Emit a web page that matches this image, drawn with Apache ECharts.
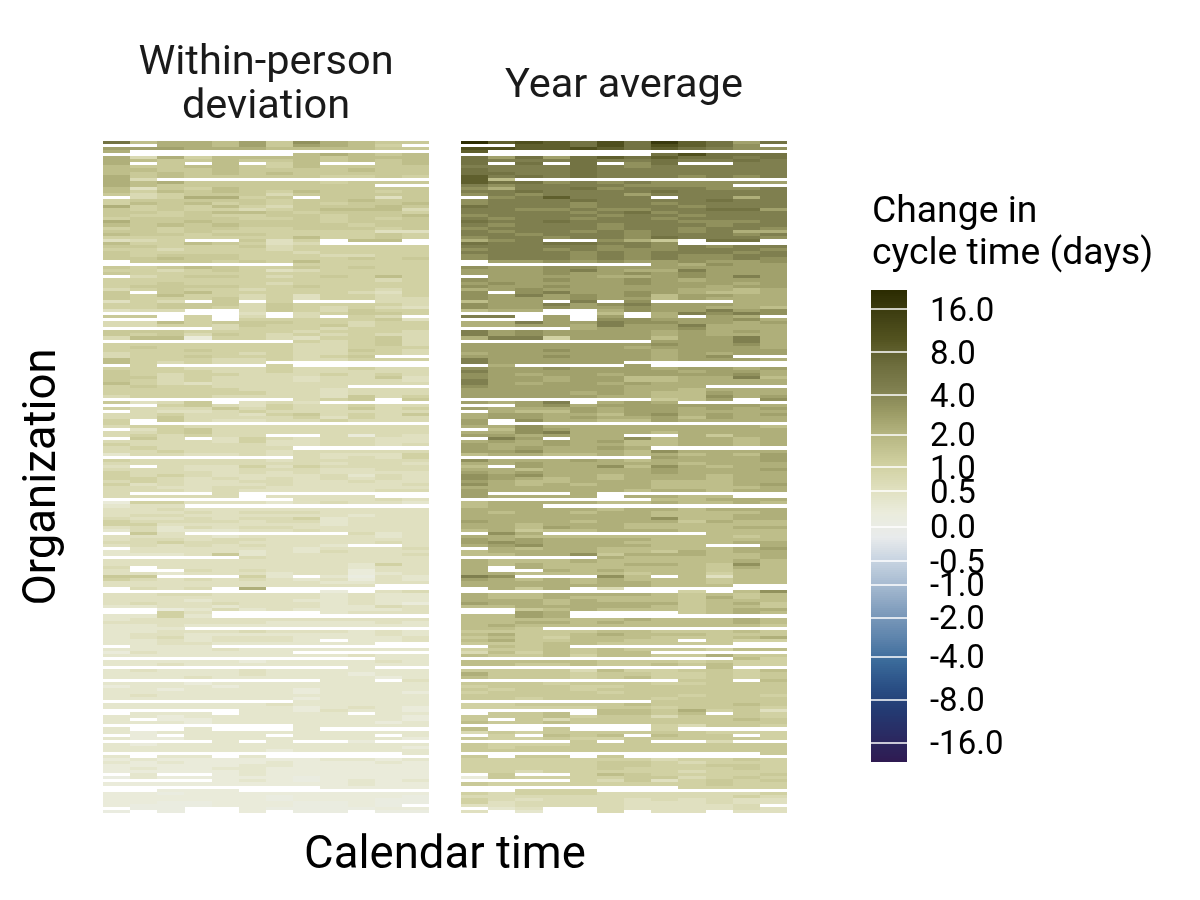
<!DOCTYPE html>
<html>
<head>
<meta charset="utf-8">
<style>
  html, body { margin: 0; background: #fff; }
  #chart { width: 1200px; height: 900px; }
</style>
<script src="https://cdn.jsdelivr.net/npm/echarts@6/dist/echarts.min.js"></script>
</head>
<body>
<div id="chart"></div>
<script>
var months = ['1','2','3','4','5','6','7','8','9','10','11','12'];

// change in days per code; '.' is a missing cell
var levels = {'0':0.1,'1':0.2,'2':0.35,'3':0.5,'4':0.7,'5':1,'6':1.3,'7':1.7,'8':2.2,'9':2.8,
              'a':3.5,'b':4.5,'c':6,'d':8,'e':11,'f':16,'g':21};

var withinRows = [
'c788796a8766','..887969875.','999888777766','8...........','.......78767','848577776777','876676676767','8.6.7.57..67',
'766776576666','776676666766','767676766666','867666665565','84..........','878666665666','8766666666..','736576666666',
'757676576656','645666466666','.458856.6636','566666566766','576756565667','856575466676','656554567774','665677656665',
'655655665667','566665565656','866766665666','767676666566','565665566656','665655555533','766566555565','555555575565',
'345..635.77.','75576534....','665556455555','554555455555','655555545555','656665554455','667665555656','.66656575555',
'.......55555','656765565655','554565345555','655555555555','.45665456575','555555555545','556555455555','566665565555',
'456554555545','6.6755555435','657554535545','655564535544','354.6.5...44','556664655554','556654654543','344..4654655',
'.....3.45665','66.5.4.4.54.','...5.5555563','447566655455','445546556455','....45554555','666555545554','656465454544',
'477155435564','.......54564','555555544564','565555544555','555655544654','455554544554','4556555456..','755544544555',
'754544......','.5....5.....','555444544544','655544544444','654554445454','664544434463','654544434443','754344444444',
'565544444...','555554443444','555555443444','455544443645','.......456.6','6346.343....','..5643544544','544464544645',
'.43345444444','445443564546','446444453544','5.6433445444','5...........','455444444444','.35644444444','445644444444',
'454544..4143','.64.35434433','444435334433','544444334434','4544444.....','445444344444','244334343335','.......43435',
'544444344444','444444443443','3.4335354444','444334443344','544434343333','545433334243','554343434343','454334433433',
'534333433334','443344333333','444343333344','4...4.......','44444.3333..','.......33343','155333234332','233.........',
'334333333333','333434443333','344333333233','433434452333','544443442333','553333332333','342434433333','242223343333',
'.63......423','333323333323','344344333333','445443333343','343434332..3','.33333323334','233332324333','222362333334',
'.....4333333','333333333333','333333333253','4.3333333233','3..434333133','332333233123','66...52.2032','543434323132',
'333333332233','3333333333..','.434.8......','........1.34','334433332322','333333332322','333233322322','343343332321',
'223323332243','..1242322223','..53....2333','2252........','233333333333','333333222232','223222222222','222.........',
'223334333232','233222222232','234233322223','22323332.223','2233222222..','.222........','222232222222','1322222.....',
'222222222322','..........22','222221222232','223222222222','.........2..','232223222222','222223222122','222322222212',
'........22.3','222122222222','122212222222','221222212222','222222212221','232222222222','222222212222','.......22222',
'222222322222','222222212321','.....2213221','.222.2222.22','221222222221','2.1122222221','222122222212','.......22222',
'2..2...2....','212222222222','.1.222.222.2','211222222221','....2.2..1..','212222222222','222222222221','222222122222',
'...........2','2.22.2......','121111112212','212111211121','111112211111','121122111111','111112111111','.2..12111111',
'021111101111','....12101212','111111111211','........1111','..111.......','110111111111','111111011110','111111011100',
'110011100100','10001110010.','.00..1000011','0.0..1.00.00'
];

var yearRows = [
'gdedcecfdc9c','..ddcecedca.','eeddedcdcbaa','d...........','.......ceccc','c9c9cdcdccbc','cbbbcbbcbbcb','c.c.c.ac..bb',
'bbbbcbabbbbb','cbbbcbbbbbbb','ccbbcbbbbbbb','dbcbcbbbabab','d7..........','dccababaaaa9','babbbbaaaa..','a8bbcabbbaab',
'bbcbbbbcbbbb','ababbb9bbbbb','.abdbbb.bb8b','abbbcbbbbcbb','abbbabbabbbb','cbbbabbbabbb','bbaabaabbcc9','bbbbabcabbbb',
'abbbbabbabbb','babbabbabbbb','cbbcbbbbaaab','babbbabbbabb','abbbbabbabba','babbababab88','bbabbbabbbab','abbabbacbbba',
'8ab..a86.cc.','cbbccbba....','bbbbbabababb','abbabaaabbba','bbbbababbbab','abbbababaabb','abbbababaaba','.99a9a99a99a',
'.......98a99','a99aa9999999','999ab988b999','999a99a9a999','.9999889a9b9','a99a99a98999','9a9999a99989','a99a99999899',
'89a999998878','a.ab99a98778','a9b9a9a79988','a999a9979888','799.b.a...88','a99b9ab99988','a99a99a99887','788..8a99b9a',
'.....7.8baba','bb.9.9.8.98.','...9.aa999a8','88b99baa9989','88998b99b888','....8999a888','b9a999989898','b9a999989888',
'8bb5999799b8','.......999b8','9999999a99a8','999999899998','999a99989999','899999989899','999a99989a..','b99999989998',
'b99999......','.8....9.....','a99a99989989','b99999998998','a989989999a8','a998997788b7','b99899778888','b98998988888',
'a99999888...','999999887888','999989877988','999998877a89','.......679.a','989b.898....','..9a89999998','988898998989',
'.87798998888','8998879a8989','899898897988','9.a887798888','9...........','88a888888887','.7a988888888','88ab88878888',
'998988..8688','.b9.88a78878','898989778878','988988778878','9898898.....','99a8887a8888','788778787879','.......98889',
'a88898788889','889888887888','7.988a7a8788','887888898889','989888898888','a9a887888788','a98787888788','987788877788',
'a87878877789','888888877778','988888788788','9...8.......','98888.8877..','.......77888','788887787787','788.........',
'888887887888','878878877778','888888877788','8888888a7788','988878886877','887888777777','887988777788','786778887777',
'.a8......777','887777777767','989888877777','9a9888777788','89a888877..8','.87887777789','788887768788','7788a6888778',
'.....8777778','877787777787','8787778876a7','8.8777777687','8..878777677','887777677577','ba...a7.7377','987878777677',
'888878877677','8888888777..','.868.4......','........5.7a','877888876767','877877776867','888787776777','988788886786',
'778888876776','..6787776788','..98....6787','7798........','777777877787','778878777787','787777777776','776.........',
'666667766676','786678777666','676577766678','78667766.655','6667766666..','.767........','566767666577','4757677.....',
'766757766866','..........75','777776665655','776676676755','.........7..','666647556657','866656655656','766656755656',
'........66.7','666566655666','566655666666','656656666666','566665666666','666666665665','665666656666','.......66666',
'556666766676','555556656665','.....7768563','.667.7767.65','666756646665','6.6466666676','766766666666','.......54665',
'7..6...5....','465666666555','.5.767.766.5','655655666665','....6.6..4..','655566666666','656666666666','666666666666',
'...........6','6.66.6......','555555545565','555556654555','555556655665','555556555565','554555554555','.6..57655556',
'165555664565','....54635656','655555555655','........5555','..555.......','545554444445','444444444454','543444343433',
'534444333433','33444433334.','.23..4333343','3.2..4.33.33'
];

// colour scale: change in days and where that value sits along the colour bar
var scaleValues = [22, 16, 8, 4, 2, 1, 0.5, 0, -0.5, -1, -2, -4, -8, -16, -22];
var scalePositions = [236.5, 217.5, 174.5, 131.5, 92, 59.5, 35.5, 0, -34.5, -58, -91, -130, -173, -216, -235.5];
var scaleColors = ['#2f1b52','#2a2a62','#243a72','#2a4f85','#3a6a9a','#5f85ad','#7f9cbc','#a3b8cf','#c5d2e0','#e8ebec',
                   '#ebecdc','#dfdfbd','#cfcf9f','#b9b985','#9c9c66','#7f7f4f','#6c6c3c','#52521f','#3f3f12','#2a2a00'];
var tickValues = [16, 8, 4, 2, 1, 0.5, 0, -0.5, -1, -2, -4, -8, -16];

function scalePos(v) {
    for (var i = 0; i < scaleValues.length - 1; i++) {
        if (v <= scaleValues[i] && v >= scaleValues[i + 1]) {
            var f = (v - scaleValues[i + 1]) / (scaleValues[i] - scaleValues[i + 1]);
            return scalePositions[i + 1] + f * (scalePositions[i] - scalePositions[i + 1]);
        }
    }
    return v > 0 ? scalePositions[0] : scalePositions[scalePositions.length - 1];
}

function toCells(rows) {
    var cells = [];
    for (var r = 0; r < rows.length; r++) {
        for (var c = 0; c < months.length; c++) {
            var code = rows[r].charAt(c);
            if (code && code !== '.') {
                cells.push([c, r, scalePos(levels[code])]);
            }
        }
    }
    return cells;
}

// snapped to whole pixels so the gaps stay as wide as a row
function renderCell(params, api) {
    var p = api.coord([api.value(0), api.value(1)]);
    var s = api.size([1, 1]);
    var x0 = Math.round(p[0] - s[0] / 2), x1 = Math.round(p[0] + s[0] / 2);
    var y0 = Math.round(p[1] - s[1] / 2), y1 = Math.round(p[1] + s[1] / 2);
    return {
        type: 'rect',
        shape: { x: x0, y: y0, width: x1 - x0, height: y1 - y0 },
        style: { fill: api.visual('color') }
    };
}

// colour bar of the legend, a strip per step of the scale
var barStep = 2;
function renderStrip(params, api) {
    var p = api.coord([api.value(0), api.value(1)]);
    var top = api.coord([api.value(0), api.value(1) + barStep]);
    var w = api.size([1, 0])[0];
    return {
        type: 'rect',
        shape: { x: p[0] - w / 2, y: Math.round(top[1]), width: w, height: Math.round(p[1]) - Math.round(top[1]) },
        style: { fill: api.visual('color') }
    };
}
var barStrips = [];
for (var pos = scalePositions[scalePositions.length - 1]; pos < scalePositions[0]; pos += barStep) {
    barStrips.push([0, pos, pos]);
}

var rowNames = withinRows.map(function (d, i) { return String(i); });
var font = 'Roboto';
var tickPositions = tickValues.map(scalePos);

var myChart = echarts.init(document.getElementById('chart'));
myChart.setOption({
    animation: false,
    title: [
        { text: 'Within-person\ndeviation', left: 266, top: 42, textAlign: 'center', padding: 0,
          textStyle: { fontFamily: font, fontSize: 41.5, fontWeight: 'normal', color: '#1a1a1a', lineHeight: 44 } },
        { text: 'Year average', left: 624, top: 65, textAlign: 'center', padding: 0,
          textStyle: { fontFamily: font, fontSize: 41.5, fontWeight: 'normal', color: '#1a1a1a', lineHeight: 44 } },
        { text: 'Calendar time', left: 445, top: 834, textAlign: 'center', padding: 0,
          textStyle: { fontFamily: font, fontSize: 45.5, fontWeight: 'normal', color: '#000' } },
        { text: 'Change in\ncycle time (days)', left: 872, top: 192, padding: 0,
          textStyle: { fontFamily: font, fontSize: 37.3, fontWeight: 'normal', color: '#000', lineHeight: 42 } }
    ],
    grid: [
        { left: 103, top: 141, width: 326, height: 672 },
        { left: 461, top: 141, width: 326, height: 672 },
        { left: 871, top: 290, width: 36, height: 472 }
    ],
    xAxis: [
        { type: 'category', gridIndex: 0, data: months, show: false },
        { type: 'category', gridIndex: 1, data: months, show: false },
        { type: 'category', gridIndex: 2, data: ['bar'], show: false }
    ],
    yAxis: [
        { type: 'category', gridIndex: 0, data: rowNames, inverse: true,
          name: 'Organization', nameLocation: 'middle', nameRotate: 90, nameGap: 36,
          nameTextStyle: { fontFamily: font, fontSize: 45.5, color: '#000' },
          axisLine: { show: false }, axisTick: { show: false }, axisLabel: { show: false } },
        { type: 'category', gridIndex: 1, data: rowNames, inverse: true, show: false },
        { type: 'value', gridIndex: 2, position: 'right', min: -235.5, max: 236.5, z: 10,
          splitLine: { show: false }, axisLine: { show: false },
          axisTick: { show: true, inside: true, length: 36, customValues: tickPositions,
                      lineStyle: { color: '#fff', width: 1.5 } },
          axisLabel: { customValues: tickPositions, margin: 23,
                       fontFamily: font, fontSize: 33, color: '#000',
                       formatter: function (pos) {
                           return '{t|' + tickValues[tickPositions.indexOf(pos)].toFixed(1) + '}';
                       },
                       rich: { t: { fontFamily: font, fontSize: 33, color: '#000', padding: [7, 0, 0, 0] } } } }
    ],
    visualMap: {
        type: 'continuous', show: false, seriesIndex: [0, 1, 2], dimension: 2,
        min: -235.5, max: 236.5,
        inRange: { color: scaleColors }
    },
    series: [
        { type: 'custom', xAxisIndex: 0, yAxisIndex: 0, renderItem: renderCell, silent: true,
          encode: { x: 0, y: 1 }, data: toCells(withinRows) },
        { type: 'custom', xAxisIndex: 1, yAxisIndex: 1, renderItem: renderCell, silent: true,
          encode: { x: 0, y: 1 }, data: toCells(yearRows) },
        { type: 'custom', xAxisIndex: 2, yAxisIndex: 2, renderItem: renderStrip, silent: true, z: 1,
          encode: { x: 0, y: 1 }, data: barStrips }
    ]
});
</script>
</body>
</html>
